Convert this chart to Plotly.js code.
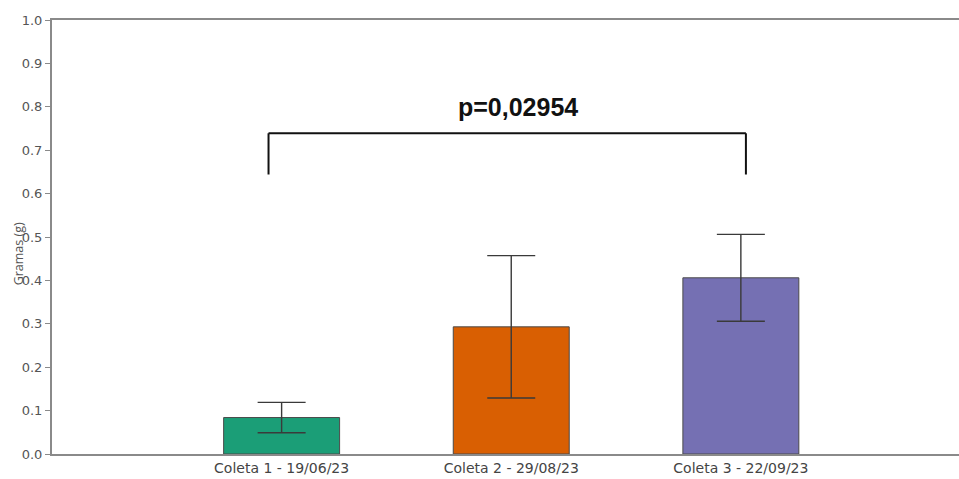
<!DOCTYPE html>
<html>
<head>
<meta charset="utf-8">
<script src="https://cdn.plot.ly/plotly-3.0.1.min.js"></script>
<style>html,body{margin:0;padding:0;background:#fff;}#chart{width:959px;height:479px;}</style>
</head>
<body>
<div id="chart"></div>
<script>
const categories = ["Coleta 1 - 19/06/23", "Coleta 2 - 29/08/23", "Coleta 3 - 22/09/23"];
const means = [0.084, 0.293, 0.406];
const errors = [0.035, 0.164, 0.100];
const barColors = ["#1b9e77", "#d95f02", "#7570b3"];
const yTicks = [0, 0.1, 0.2, 0.3, 0.4, 0.5, 0.6, 0.7, 0.8, 0.9, 1.0];
const pLabel = "p=0,02954";
const yTitle = "Gramas (g)";
// bracket comparing first and third group
const bracketFrom = 0, bracketTo = 2;
const bracketY = 0.739, bracketLegY = 0.644;

const trace = {
  type: "bar",
  x: [0, 1, 2],
  y: means,
  width: 0.505,
  marker: {color: barColors, line: {color: "#4a4a4a", width: 1}},
  error_y: {type: "data", array: errors, visible: true, color: "#3a3a3a", thickness: 1.4, width: 24},
  hoverinfo: "none"
};

const layout = {
  width: 959, height: 479,
  margin: {l: 52, r: 0, t: 20, b: 25},
  paper_bgcolor: "#ffffff", plot_bgcolor: "#ffffff",
  showlegend: false,
  font: {family: "DejaVu Sans, sans-serif", color: "#555"},
  xaxis: {
    range: [-1, 2.95],
    tickmode: "array", tickvals: [0, 1, 2], ticktext: categories,
    ticks: "", showgrid: false, zeroline: false,
    showline: true, linecolor: "#8a8a8a", linewidth: 2, mirror: true,
    tickfont: {size: 14, color: "#444"}
  },
  yaxis: {
    range: [0, 1], tickmode: "array", tickvals: yTicks,
    ticktext: yTicks.map(v => v.toFixed(1)),
    ticks: "outside", ticklen: 5, tickcolor: "#8a8a8a", tickwidth: 1,
    showgrid: false, zeroline: false,
    showline: true, linecolor: "#8a8a8a", linewidth: 2,
    tickfont: {size: 13, color: "#555"}, ticklabelstandoff: 0
  },
  shapes: [
    {type: "line", xref: "x", yref: "y", x0: bracketFrom - 0.057, x1: bracketFrom - 0.057, y0: bracketLegY, y1: bracketY, line: {color: "#111", width: 2}},
    {type: "line", xref: "x", yref: "y", x0: bracketFrom - 0.057, x1: bracketTo + 0.022, y0: bracketY, y1: bracketY, line: {color: "#111", width: 2}},
    {type: "line", xref: "x", yref: "y", x0: bracketTo + 0.022, x1: bracketTo + 0.022, y0: bracketLegY, y1: bracketY, line: {color: "#111", width: 2}}
  ],
  annotations: [
    {xref: "x", yref: "y", x: 1.03, y: 0.80, text: "<b>" + pLabel + "</b>", showarrow: false,
     font: {family: "Liberation Sans, Arial, sans-serif", size: 25, color: "#111"}, xanchor: "center", yanchor: "middle"},
    {xref: "paper", yref: "paper", x: -34/907, y: 0.46, text: yTitle, showarrow: false, textangle: -90,
     font: {family: "Open Sans, sans-serif", size: 12.5, color: "#555"}, xanchor: "center", yanchor: "middle"}
  ]
};

Plotly.newPlot("chart", [trace], layout, {displayModeBar: false, staticPlot: true});
</script>
</body>
</html>
